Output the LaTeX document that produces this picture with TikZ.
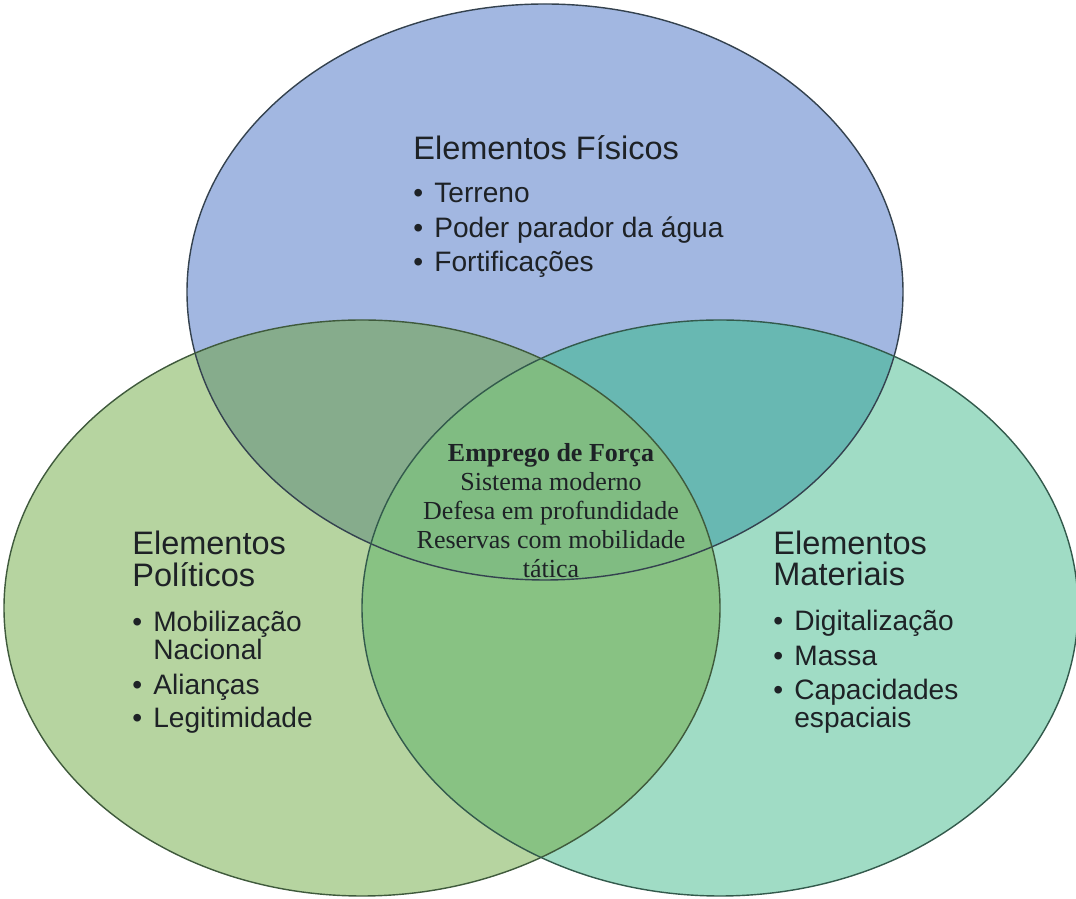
\documentclass[tikz,border=0pt]{standalone}
\usepackage{fontspec}
\newfontfamily\sansfonte{Liberation Sans}
\newfontfamily\seriffonte{Liberation Serif}
\usetikzlibrary{positioning}
\definecolor{azul}{HTML}{A2B7E1}
\definecolor{verde}{HTML}{B6D4A0}
\definecolor{agua}{HTML}{A0DCC5}
\definecolor{azulverde}{HTML}{86AC8C}
\definecolor{azulagua}{HTML}{68B8B2}
\definecolor{verdeagua}{HTML}{88C283}
\definecolor{meio}{HTML}{80BC82}
\definecolor{bordaazul}{HTML}{34424F}
\definecolor{bordaverde}{HTML}{3F5A3C}
\definecolor{bordaagua}{HTML}{335A4C}
\definecolor{texto}{HTML}{1E2226}
\tikzstyle{oval} = [x radius=7.16, y radius=5.76]
\tikzstyle{borda} = [line width=0.8pt]
\tikzstyle{titulo} = [font=\sansfonte\fontsize{18.5}{22}\selectfont, text=texto, anchor=base west, inner sep=0pt]
\tikzstyle{linha} = [font=\sansfonte\fontsize{16}{19}\selectfont, text=texto, anchor=base west, inner sep=0pt]
\tikzstyle{centro} = [font=\seriffonte\fontsize{14.8}{17}\selectfont, text=texto, anchor=base, inner sep=0pt]
\newcommand{\marca}{\makebox[0.42cm][l]{\textbullet}}
\newcommand{\recuo}{\hspace*{0.42cm}}

\begin{document}
\begin{tikzpicture}
\useasboundingbox (0,0) rectangle (21.52,17.98);
\coordinate (cfis) at (10.90,12.14);
\coordinate (cpol) at (7.24,5.82);
\coordinate (cmat) at (14.40,5.82);

% fundos
\fill[azul] (cfis) ellipse [oval];
\fill[verde] (cpol) ellipse [oval];
\fill[agua] (cmat) ellipse [oval];
\begin{scope}
  \clip (cfis) ellipse [oval];
  \fill[azulverde] (cpol) ellipse [oval];
  \fill[azulagua] (cmat) ellipse [oval];
\end{scope}
\begin{scope}
  \clip (cpol) ellipse [oval];
  \fill[verdeagua] (cmat) ellipse [oval];
  \clip (cfis) ellipse [oval];
  \fill[meio] (cmat) ellipse [oval];
\end{scope}

% contornos
\draw[borda, bordaazul] (cfis) ellipse [oval];
\draw[borda, bordaverde] (cpol) ellipse [oval];
\draw[borda, bordaagua] (cmat) ellipse [oval];

% elementos fisicos
\node (fis) [titulo] at (8.26,14.78) {Elementos Físicos};
\node (fis1) [below=0.86cm of fis.base west, linha] {\marca Terreno};
\node (fis2) [below=0.69cm of fis1.base west, linha] {\marca Poder parador da água};
\node (fis3) [below=0.69cm of fis2.base west, linha] {\marca Fortificações};

% elementos politicos
\node (pol) [titulo] at (2.64,6.88) {Elementos};
\node (pol0) [below=0.64cm of pol.base west, titulo] {Políticos};
\node (pol1) [below=0.90cm of pol0.base west, linha] {\marca Mobilização};
\node (pol2) [below=0.56cm of pol1.base west, linha] {\recuo Nacional};
\node (pol3) [below=0.70cm of pol2.base west, linha] {\marca Alianças};
\node (pol4) [below=0.66cm of pol3.base west, linha] {\marca Legitimidade};

% elementos materiais
\node (mat) [titulo] at (15.46,6.88) {Elementos};
\node (mat0) [below=0.62cm of mat.base west, titulo] {Materiais};
\node (mat1) [below=0.90cm of mat0.base west, linha] {\marca Digitalização};
\node (mat2) [below=0.70cm of mat1.base west, linha] {\marca Massa};
\node (mat3) [below=0.68cm of mat2.base west, linha] {\marca Capacidades};
\node (mat4) [below=0.56cm of mat3.base west, linha] {\recuo espaciais};

% emprego de forca
\node (emp) [centro] at (11.02,8.74) {\bfseries Emprego de Força};
\node (emp1) [below=0.58cm of emp.base, centro] {Sistema moderno};
\node (emp2) [below=0.58cm of emp1.base, centro] {Defesa em profundidade};
\node (emp3) [below=0.58cm of emp2.base, centro] {Reservas com mobilidade};
\node (emp4) [below=0.58cm of emp3.base, centro] {tática};
\end{tikzpicture}
\end{document}
